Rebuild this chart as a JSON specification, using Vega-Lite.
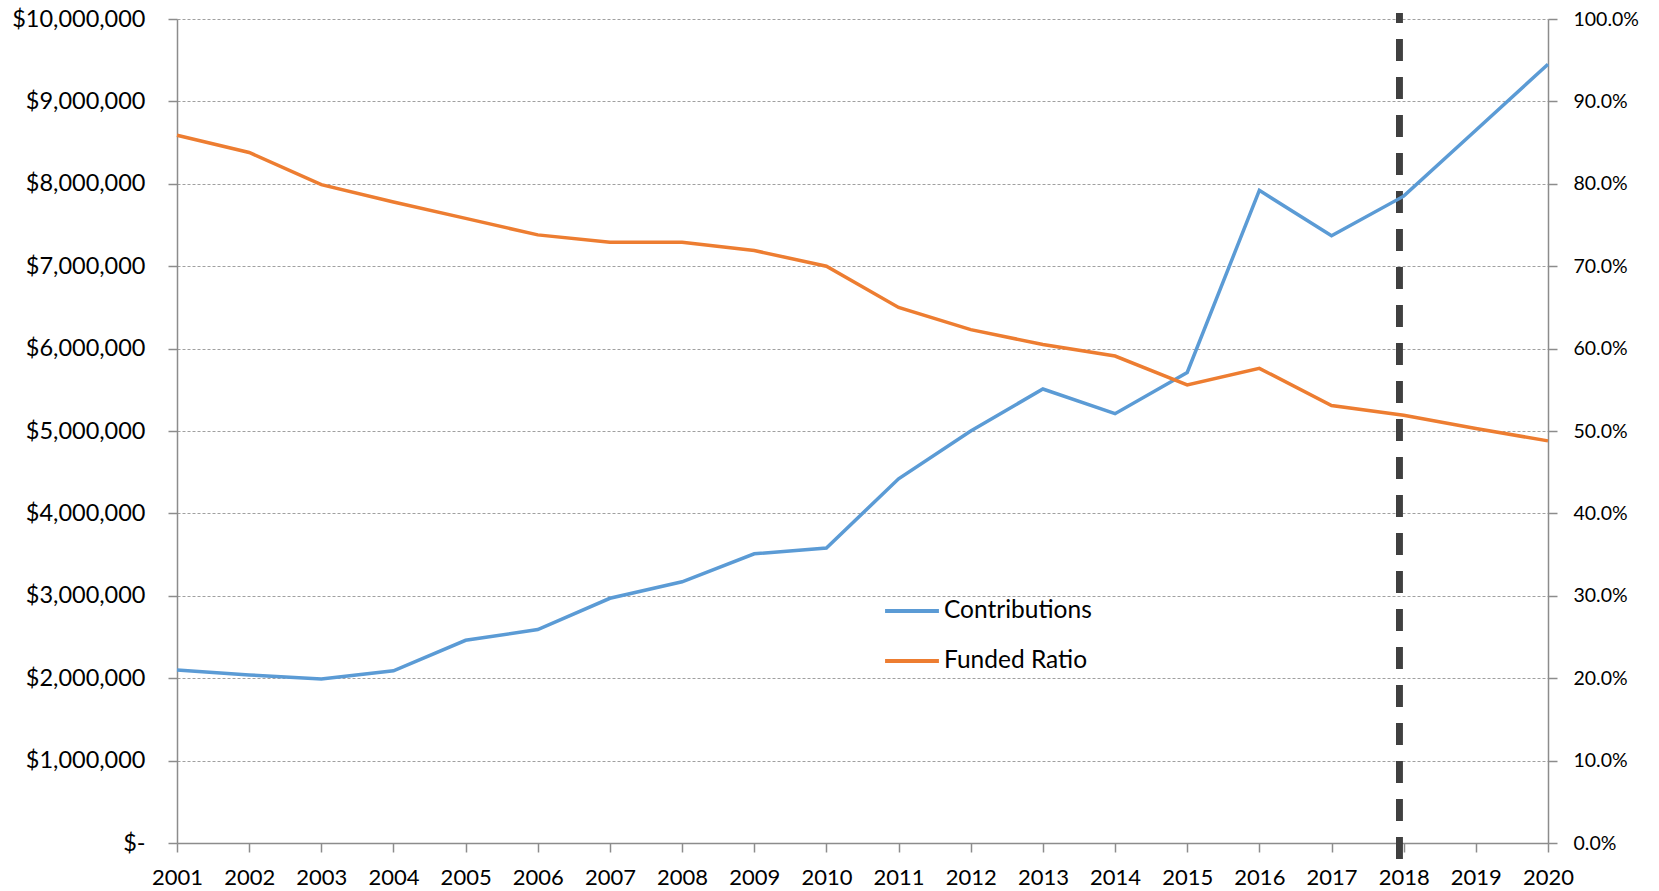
{
  "$schema": "https://vega.github.io/schema/vega-lite/v6.json",
  "autosize": {"type": "none"},
  "width": 1371,
  "height": 824,
  "padding": {"left": 177, "top": 19, "right": 111, "bottom": 48},
  "background": "white",
  "config": {
    "font": "Lato",
    "view": {"stroke": null},
    "axis": {
      "labelFont": "Lato",
      "labelColor": "#000000",
      "domainColor": "#8c8c8c",
      "domainWidth": 1.5,
      "tickColor": "#8c8c8c",
      "tickWidth": 1.5,
      "tickSize": 9,
      "titleFontSize": 0
    }
  },
  "data": {
    "values": [
      {"year": 2001, "contributions": 2100000, "funded": 0.859},
      {"year": 2002, "contributions": 2040000, "funded": 0.838},
      {"year": 2003, "contributions": 1990000, "funded": 0.799},
      {"year": 2004, "contributions": 2090000, "funded": 0.778},
      {"year": 2005, "contributions": 2460000, "funded": 0.758},
      {"year": 2006, "contributions": 2590000, "funded": 0.738},
      {"year": 2007, "contributions": 2970000, "funded": 0.729},
      {"year": 2008, "contributions": 3170000, "funded": 0.729},
      {"year": 2009, "contributions": 3510000, "funded": 0.719},
      {"year": 2010, "contributions": 3580000, "funded": 0.700},
      {"year": 2011, "contributions": 4420000, "funded": 0.650},
      {"year": 2012, "contributions": 5000000, "funded": 0.623},
      {"year": 2013, "contributions": 5510000, "funded": 0.605},
      {"year": 2014, "contributions": 5210000, "funded": 0.591},
      {"year": 2015, "contributions": 5710000, "funded": 0.556},
      {"year": 2016, "contributions": 7920000, "funded": 0.576},
      {"year": 2017, "contributions": 7370000, "funded": 0.531},
      {"year": 2018, "contributions": 7850000, "funded": 0.519},
      {"year": 2019, "contributions": 8650000, "funded": 0.503},
      {"year": 2020, "contributions": 9450000, "funded": 0.488}
    ]
  },
  "layer": [
    {
      "mark": {"type": "rule", "color": "#404040", "strokeWidth": 5.5, "strokeDash": [22, 16], "strokeDashOffset": 12},
      "encoding": {
        "x": {"datum": 2017.94, "type": "quantitative", "scale": {"domain": [2001, 2020], "nice": false, "zero": false}},
        "y": {"datum": 10073000, "type": "quantitative", "scale": {"domain": [0, 10000000], "nice": false}, "axis": null},
        "y2": {"datum": -218000}
      }
    },
    {
      "mark": {"type": "line", "strokeWidth": 3.5},
      "encoding": {
        "x": {
          "field": "year", "type": "quantitative",
          "scale": {"domain": [2001, 2020], "nice": false, "zero": false},
          "axis": {
            "values": [2001,2002,2003,2004,2005,2006,2007,2008,2009,2010,2011,2012,2013,2014,2015,2016,2017,2018,2019,2020],
            "format": "d", "labelFontSize": 22, "labelPadding": 15, "grid": false, "title": null, "labelFlush": false, "labelOverlap": false
          }
        },
        "y": {
          "field": "contributions", "type": "quantitative",
          "scale": {"domain": [0, 10000000], "nice": false},
          "axis": {
            "values": [0,1000000,2000000,3000000,4000000,5000000,6000000,7000000,8000000,9000000,10000000],
            "labelExpr": "datum.value == 0 ? '$-\u00a0\u00a0\u00a0' : format(datum.value, '$,')",
            "labelFontSize": 23.5, "labelPadding": 23, "title": null,
            "grid": true, "gridColor": "#a0a0a0", "gridDash": [3, 2], "gridWidth": 1
          }
        },
        "color": {
          "datum": "Contributions",
          "scale": {"domain": ["Contributions", "Funded Ratio"], "range": ["#5B9BD5", "#ED7D31"]},
          "legend": {
            "orient": "none", "legendX": 706, "legendY": 563, "title": null,
            "symbolType": "stroke", "symbolSize": 2900, "symbolStrokeWidth": 4,
            "labelFontSize": 24.5, "labelFont": "Lato", "labelColor": "#000000", "labelOffset": 3, "rowPadding": 9
          }
        }
      }
    },
    {
      "mark": {"type": "line", "strokeWidth": 3.5},
      "encoding": {
        "x": {"field": "year", "type": "quantitative", "scale": {"domain": [2001, 2020], "nice": false, "zero": false}},
        "y": {
          "field": "funded", "type": "quantitative",
          "scale": {"domain": [0, 1], "nice": false},
          "axis": {
            "orient": "right", "values": [0,0.1,0.2,0.3,0.4,0.5,0.6,0.7,0.8,0.9,1.0],
            "format": ".1%", "labelFontSize": 19.5, "labelPadding": 16, "title": null, "grid": false
          }
        },
        "color": {"datum": "Funded Ratio"}
      }
    }
  ],
  "resolve": {"scale": {"y": "independent"}}
}
